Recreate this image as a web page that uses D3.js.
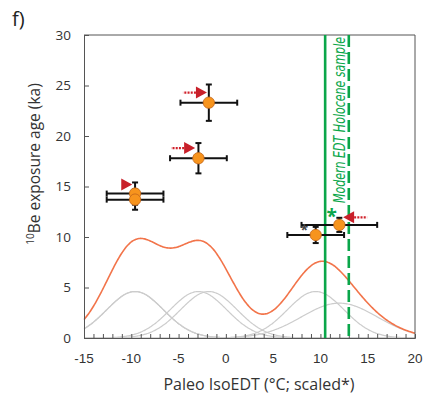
<!DOCTYPE html>
<html>
<head>
<meta charset="utf-8">
<script src="https://cdn.jsdelivr.net/npm/d3@7"></script>
<style>
  html, body { margin: 0; padding: 0; background: #fff; }
  svg { display: block; font-family: "Open Sans", "Noto Sans", sans-serif; }
</style>
</head>
<body>
<div id="chart"></div>
<script>
// Sample data: paleo IsoEDT (scaled, °C) versus 10Be exposure age (ka)
const temps    = [-9.6, -9.6, -2.9, -1.8, 9.5, 12.0];
const ages     = [14.3, 13.7, 17.8, 23.3, 10.2, 11.2];
const tempErr  = [3, 3, 3, 3, 3, 4];
const ageErr   = [1.1, 1.0, 1.5, 1.8, 0.8, 0.7];

// Modern EDT of the Holocene sample: solid and dashed reference lines
const modernEDT = [10.5, 13.0];

// Red arrows marking samples: tip position and pointing direction
const arrowX    = [-9.9, -3.25, -2.0, 12.4];
const arrowY    = [15.2, 18.8, 24.3, 11.95];
const arrowDir  = [1, 1, 1, -1];
const arrowTail = [false, true, true, true];

// Asterisk marks next to the two youngest samples
const starX = [8.3, 11.2];
const starY = [10.7, 12.2];

// Density scale for the probability curves
const densityScale = 34.6;

const xTicks = [-15, -10, -5, 0, 5, 10, 15, 20];
const yTicks = [0, 5, 10, 15, 20, 25, 30];

const W = 429, H = 404;
const m = { left: 84, top: 35, right: 14, bottom: 66 };
const iw = W - m.left - m.right, ih = H - m.top - m.bottom;

const svg = d3.select("#chart").append("svg").attr("width", W).attr("height", H);
const g = svg.append("g").attr("transform", `translate(${m.left},${m.top})`);

const x = d3.scaleLinear().domain([-15, 20]).range([0, iw]);
const y = d3.scaleLinear().domain([0, 30]).range([ih, 0]);

// Probability curves: one normal density per sample and their sum
const grid = d3.range(-15, 20.0001, 0.1);
const pdf = (v, mu, s) => densityScale * Math.exp(-((v - mu) ** 2) / (2 * s * s)) / (s * Math.sqrt(2 * Math.PI));
const line = d3.line().x(d => x(d[0])).y(d => y(d[1])).curve(d3.curveBasis);

temps.forEach((mu, i) => {
  g.append("path")
    .datum(grid.map(v => [v, pdf(v, mu, tempErr[i])]))
    .attr("d", line).attr("fill", "none")
    .attr("stroke", "#cccccc").attr("stroke-width", 1.2);
});
g.append("path")
  .datum(grid.map(v => [v, d3.sum(temps, (mu, i) => pdf(v, mu, tempErr[i]))]))
  .attr("d", line).attr("fill", "none")
  .attr("stroke", "#f2744a").attr("stroke-width", 1.6);

// Frame (top and right border)
g.append("path")
  .attr("d", `M0,0H${iw}V${ih}`)
  .attr("fill", "none").attr("stroke", "#555").attr("stroke-width", 1);

// Axes
const xAxis = g.append("g").attr("transform", `translate(0,${ih})`)
  .call(d3.axisBottom(x).tickValues(d3.range(-15, 21, 1)).tickSize(-4).tickFormat(""));
xAxis.select(".domain").attr("stroke", "#555");
xAxis.selectAll(".tick line").attr("stroke", "#555");
xAxis.selectAll(".xlab").data(xTicks).enter().append("text")
  .attr("x", d => x(d)).attr("y", 25)
  .attr("text-anchor", "middle").attr("fill", "#333")
  .attr("font-size", 13.5).text(d => d);

const yAxis = g.append("g")
  .call(d3.axisLeft(y).tickValues(yTicks).tickSize(-5).tickPadding(13));
yAxis.select(".domain").attr("stroke", "#555");
yAxis.selectAll(".tick line").attr("stroke", "#555");
yAxis.selectAll(".tick text").attr("fill", "#333").attr("font-size", 13.5)
  .attr("font-family", "'Open Sans', sans-serif");

// Modern EDT reference lines
g.append("line")
  .attr("x1", x(modernEDT[0])).attr("x2", x(modernEDT[0]))
  .attr("y1", 0).attr("y2", ih)
  .attr("stroke", "#0aa64a").attr("stroke-width", 2.6);
g.append("line")
  .attr("x1", x(modernEDT[1])).attr("x2", x(modernEDT[1]))
  .attr("y1", 0).attr("y2", ih)
  .attr("stroke", "#0aa64a").attr("stroke-width", 2.6)
  .attr("stroke-dasharray", "12,5");

g.append("text")
  .attr("transform", `translate(${x(modernEDT[0]) + 20},168) rotate(-90)`)
  .attr("font-family", "'Liberation Sans Narrow', 'DejaVu Sans Condensed', sans-serif")
  .attr("font-style", "italic").attr("font-size", 15)
  .attr("fill", "#0aa64a")
  .attr("textLength", 166).attr("lengthAdjust", "spacingAndGlyphs")
  .text("Modern EDT Holocene sample");

// Error bars
const cap = 3;
const bars = g.append("g").attr("stroke", "#111").attr("stroke-width", 2);
temps.forEach((t, i) => {
  const cx = x(t), cy = y(ages[i]);
  const x0 = x(t - tempErr[i]), x1 = x(t + tempErr[i]);
  const y0 = y(ages[i] - ageErr[i]), y1 = y(ages[i] + ageErr[i]);
  bars.append("line").attr("x1", x0).attr("x2", x1).attr("y1", cy).attr("y2", cy);
  bars.append("line").attr("x1", x0).attr("x2", x0).attr("y1", cy - cap).attr("y2", cy + cap);
  bars.append("line").attr("x1", x1).attr("x2", x1).attr("y1", cy - cap).attr("y2", cy + cap);
  bars.append("line").attr("x1", cx).attr("x2", cx).attr("y1", y0).attr("y2", y1);
  bars.append("line").attr("x1", cx - cap).attr("x2", cx + cap).attr("y1", y0).attr("y2", y0);
  bars.append("line").attr("x1", cx - cap).attr("x2", cx + cap).attr("y1", y1).attr("y2", y1);
});

// Sample points
g.selectAll(".pt").data(temps).enter().append("circle")
  .attr("cx", d => x(d)).attr("cy", (d, i) => y(ages[i])).attr("r", 5.7)
  .attr("fill", "#f7941d").attr("stroke", "#c2651a").attr("stroke-width", 0.8);

// Asterisks
g.append("text").attr("x", x(starX[0])).attr("y", y(starY[0]) + 5)
  .attr("text-anchor", "middle").attr("font-size", 14).attr("font-weight", "bold")
  .attr("fill", "#444").text("*");
g.append("text").attr("x", x(starX[1])).attr("y", y(starY[1]) + 8)
  .attr("text-anchor", "middle").attr("font-size", 19).attr("font-weight", "bold")
  .attr("fill", "#0aa64a").text("*");

// Red arrows
arrowX.forEach((ax, i) => {
  const tx = x(ax), ty = y(arrowY[i]), d = arrowDir[i];
  const len = 11, half = 6;
  if (arrowTail[i]) {
    g.append("line")
      .attr("x1", tx - d * len).attr("x2", tx - d * (len + 13))
      .attr("y1", ty).attr("y2", ty)
      .attr("stroke", "#d0202a").attr("stroke-width", 2.2)
      .attr("stroke-dasharray", "2,1.2");
  }
  g.append("path")
    .attr("d", `M${tx},${ty}L${tx - d * len},${ty - half}L${tx - d * len},${ty + half}Z`)
    .attr("fill", "#c8202a");
});

// Axis titles and panel label
const yt = svg.append("text")
  .attr("transform", "translate(40,164) rotate(-90)")
  .attr("text-anchor", "middle").attr("font-size", 15.5).attr("fill", "#333");
yt.append("tspan").attr("font-size", 10).attr("dy", -6).text("10");
yt.append("tspan").attr("dy", 6).text("Be exposure age (ka)");

svg.append("text").attr("x", 259).attr("y", 390)
  .attr("text-anchor", "middle").attr("font-size", 16).attr("fill", "#333")
  .text("Paleo IsoEDT (°C; scaled*)");

svg.append("text").attr("x", 12).attr("y", 26)
  .attr("font-size", 20).attr("fill", "#222").text("f)");
</script>
</body>
</html>
